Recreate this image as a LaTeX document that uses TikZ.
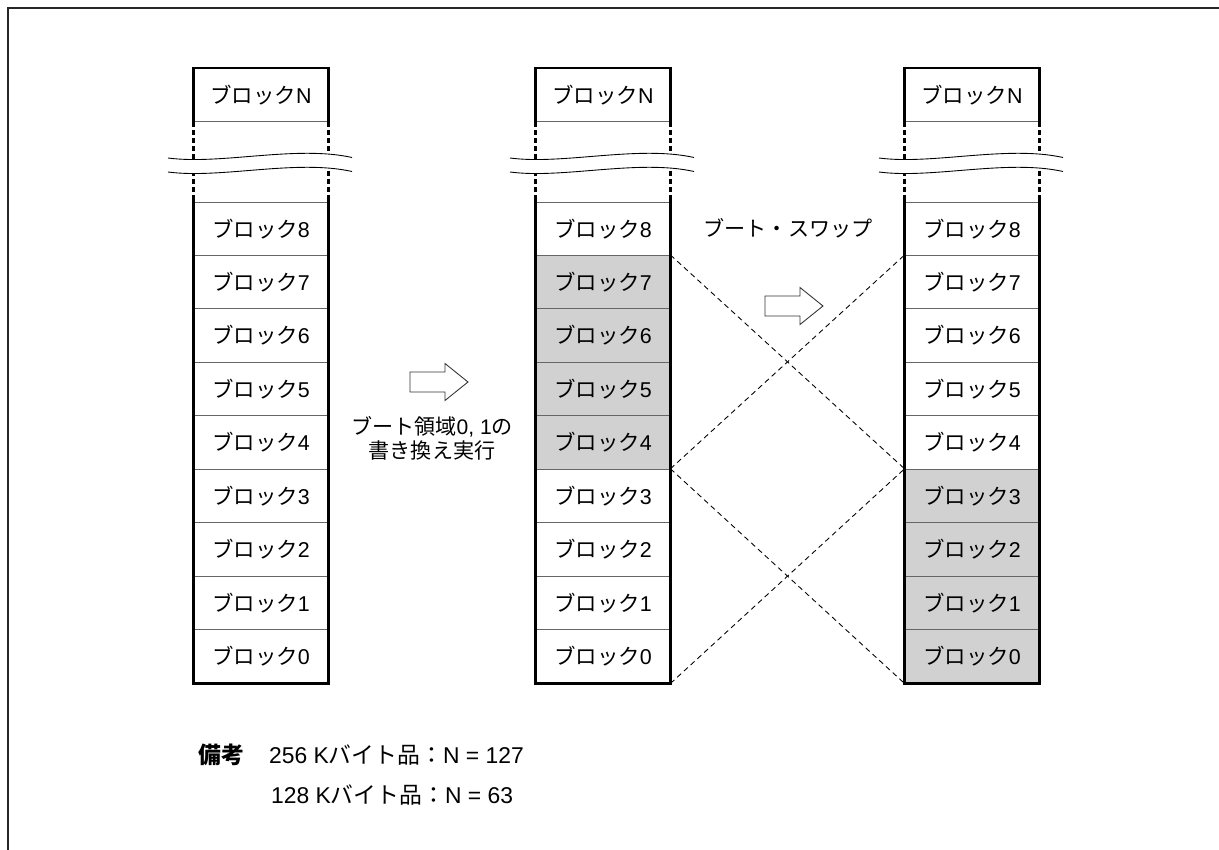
\documentclass[tikz,border=0pt]{standalone}
\usepackage{fontspec}
\setmainfont{Liberation Sans}
\newfontfamily\jp{Noto Sans CJK JP}
\usetikzlibrary{positioning}

\tikzset{
  blk/.style={draw=black!60, line width=0.5pt, minimum width=2.68cm, minimum height=1.069cm, inner sep=0pt, font=\fontsize{12.2}{14}\selectfont},
  colside/.style={line width=1.3pt, line cap=rect},
  breakside/.style={line width=1.3pt, dash pattern=on 2.8pt off 1.8pt},
  waveline/.style={line width=0.5pt},
  swapline/.style={line width=0.5pt, dash pattern=on 3pt off 2.2pt},
  hollowarrow/.pic={
    \draw[black!80, fill=white, line width=0.5pt] (0,0.2) -- (0.7,0.2) -- (0.7,0.37) -- (1.16,0) -- (0.7,-0.37) -- (0.7,-0.2) -- (0,-0.2) -- cycle;
  },
}

\begin{document}
\begin{tikzpicture}[font=\fontsize{12}{14}\selectfont]
\useasboundingbox (0,0) rectangle (24.38,-17);
% outer frame (only top and left visible)
\draw[line width=1.2pt, black!85] (0.16,-18) -- (0.16,-0.16) -- (25,-0.16);

% three memory columns
\foreach \c/\x/\lo/\hi in {1/5.22/9/9, 2/12.06/4/7, 3/19.44/0/3} {
  % block N at the top
  \node[blk] (bN\c) at (\x,-1.9) {{\jp ブロック}N};
  % blocks 0..8
  \foreach \k in {0,...,8} {
    \pgfmathtruncatemacro\isgray{and(\k>=\lo,\k<=\hi)}
    \ifnum\isgray=1 \def\bfill{black!18}\else\def\bfill{white}\fi
    \node[blk, fill=\bfill] (b\c-\k) at (\x,{-13.126+1.069*\k}) {{\jp ブロック}\k};
  }
  % thick outline
  \draw[colside] (bN\c.south west) -- (bN\c.north west) -- (bN\c.north east) -- (bN\c.south east);
  \draw[colside] (b\c-8.north west) -- (b\c-0.south west) -- (b\c-0.south east) -- (b\c-8.north east);
  \draw[breakside] (bN\c.south west) -- (b\c-8.north west);
  \draw[breakside] (bN\c.south east) -- (b\c-8.north east);
  % wavy break
  \fill[white] (\x-1.86,-3.16) .. controls (\x-0.8,-3.3) and (\x+0.7,-2.9) .. (\x+1.82,-3.15)
    -- (\x+1.82,-3.43) .. controls (\x+0.7,-3.18) and (\x-0.8,-3.58) .. (\x-1.86,-3.44) -- cycle;
  \draw[waveline] (\x-1.86,-3.16) .. controls (\x-0.8,-3.3) and (\x+0.7,-2.9) .. (\x+1.82,-3.15);
  \draw[waveline] (\x-1.86,-3.44) .. controls (\x-0.8,-3.58) and (\x+0.7,-3.18) .. (\x+1.82,-3.43);
}

% rewrite step
\pic (arrA) at (8.2,-7.64) {hollowarrow};
\node[align=center] (rewr) at (8.64,-8.77) {{\jp ブート領域}0, 1{\jp の}\\{\jp 書き換え実行}};

% boot swap
\pic (arrB) at (15.3,-6.12) {hollowarrow};
\node (swap) at (15.76,-4.56) {\jp ブート・スワップ};
\draw[swapline] (b2-7.north east) -- (b3-3.north west);
\draw[swapline] (b2-3.north east) -- (b3-7.north west);
\draw[swapline] (b2-3.north east) -- (b3-0.south west);
\draw[swapline] (b2-0.south east) -- (b3-3.north west);

% note
\node[font=\fontsize{13}{14}\selectfont\jp\bfseries] (note) at (4.42,-15.1) {備考};
\node[anchor=west, font=\fontsize{13}{14}\selectfont] (noteA) at (5.26,-15.1) {256 K{\jp バイト品：}N = 127};
\node[anchor=west, font=\fontsize{13}{14}\selectfont] (noteB) at (5.3,-15.9) {128 K{\jp バイト品：}N = 63};
\end{tikzpicture}
\end{document}
